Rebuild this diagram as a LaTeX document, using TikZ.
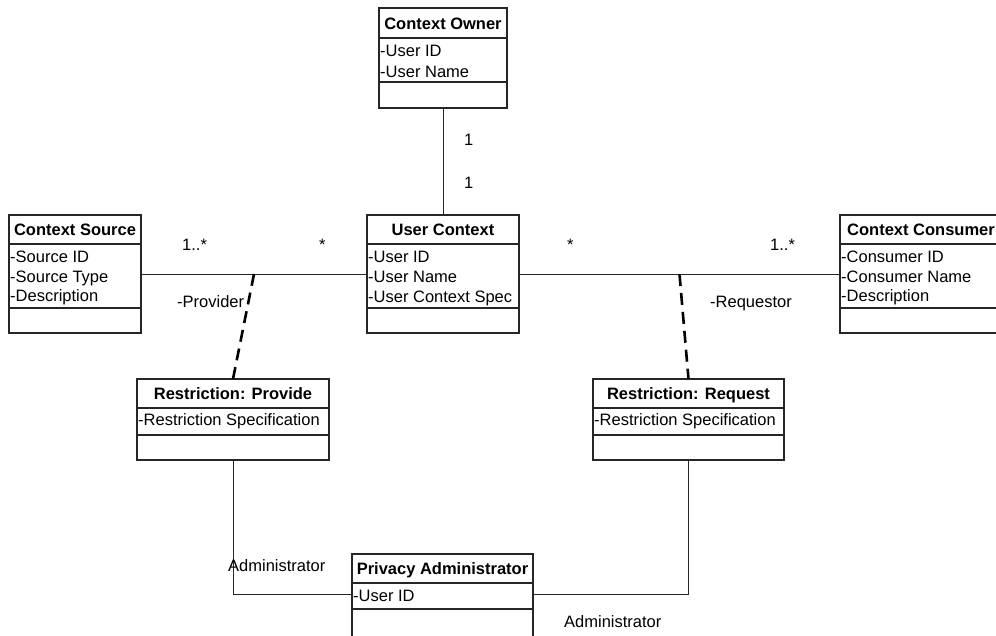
\documentclass[tikz,border=0pt]{standalone}
\usepackage{fontspec}
\setmainfont{Liberation Sans}
\usetikzlibrary{calc}
\newcommand\umlcls[8]{%
  \node[cbox, minimum width={(#4-#2)*1pt}, minimum height={(#5-#3)*1pt}] (#1) at (#2,#3) {};
  \draw[sep] (#2,#6) -- (#4,#6);
  \draw[sep] (#2,#7) -- (#4,#7);
  \node[ttl] (#1-t) at ({(#2+#4)/2},{(#3+#6)/2+6}) {#8};
}
\begin{document}
\begin{tikzpicture}[x=1pt,y=-1pt,
  cbox/.style={draw=black!85, line width=1.3pt, inner sep=0pt, outer sep=0pt, anchor=north west},
  sep/.style={draw=black!85, line width=1.3pt},
  ttl/.style={font=\fontsize{16.5}{20}\selectfont\bfseries, inner sep=0pt, anchor=base},
  attr/.style={font=\fontsize{16.5}{20}\selectfont, inner sep=0pt, anchor=base west},
  lbl/.style={font=\fontsize{16.5}{20}\selectfont, inner sep=0pt, anchor=base west},
  assoc/.style={draw=black!85, line width=1pt},
  dep/.style={draw=black, line width=2.6pt, dash pattern=on 12pt off 7pt}]
\useasboundingbox (0,0) rectangle (996,635);
\clip (0,0) rectangle (996,635);

% classes
\umlcls{own}{379}{8}{507}{108}{38}{82}{Context Owner}
\node[attr] (own-a1) at (380,56) {-User ID};
\node[attr] (own-a2) at (380,77) {-User Name};

\umlcls{uc}{367}{215}{519}{333}{244}{308}{User Context}
\node[attr] (uc-a1) at (368,262) {-User ID};
\node[attr] (uc-a2) at (368,282) {-User Name};
\node[attr] (uc-a3) at (368,302) {-User Context Spec};

\umlcls{src}{9}{215}{141}{333}{244}{308}{Context Source}
\node[attr] (src-a1) at (10,262) {-Source ID};
\node[attr] (src-a2) at (10,282) {-Source Type};
\node[attr] (src-a3) at (10,301) {-Description};

\umlcls{con}{840}{215}{1002}{333}{244}{308}{Context Consumer}
\node[attr] (con-a1) at (841,262) {-Consumer ID};
\node[attr] (con-a2) at (841,282) {-Consumer Name};
\node[attr] (con-a3) at (841,301) {-Description};

\umlcls{rp}{137}{379}{329}{460}{408}{435}{Restriction: Provide}
\node[attr] (rp-a1) at (138,425.5) {-Restriction Specification};

\umlcls{rr}{593}{379}{784}{460}{408}{435}{Restriction: Request}
\node[attr] (rr-a1) at (594,425.5) {-Restriction Specification};

\umlcls{pa}{352}{554}{533}{638}{583}{609}{Privacy Administrator}
\node[attr] (pa-a1) at (353,601) {-User ID};

% associations
\coordinate (paw) at (pa.west |- 0,594);
\coordinate (pae) at (pa.east |- 0,594);
\draw[assoc] (own.south) -- (uc.north);
\draw[assoc] (src.east) -- (uc.west);
\draw[assoc] (uc.east) -- (con.west);
\draw[assoc] (rp.south) |- (paw);
\draw[assoc] (pae) -| (rr.south);

% association classes
\coordinate (pm) at ($(src.east)!0.5!(uc.west)$);
\coordinate (rm) at ($(uc.east)!0.5!(con.west)$);
\draw[dep] (pm) -- (rp.north);
\draw[dep] (rm) -- (rr.north);

% labels
\node[lbl] (m1) at (464,145) {1};
\node[lbl] (m2) at (464,188) {1};
\node[lbl] (m3) at (182,250) {1..*};
\node[lbl] (m4) at (319,250) {*};
\node[lbl] (m5) at (567,250) {*};
\node[lbl] (m6) at (770,250) {1..*};
\node[lbl] (r1) at (177,307) {-Provider};
\node[lbl] (r2) at (710,307) {-Requestor};
\node[lbl] (r3) at (228,571) {Administrator};
\node[lbl] (r4) at (564,627) {Administrator};
\end{tikzpicture}
\end{document}
